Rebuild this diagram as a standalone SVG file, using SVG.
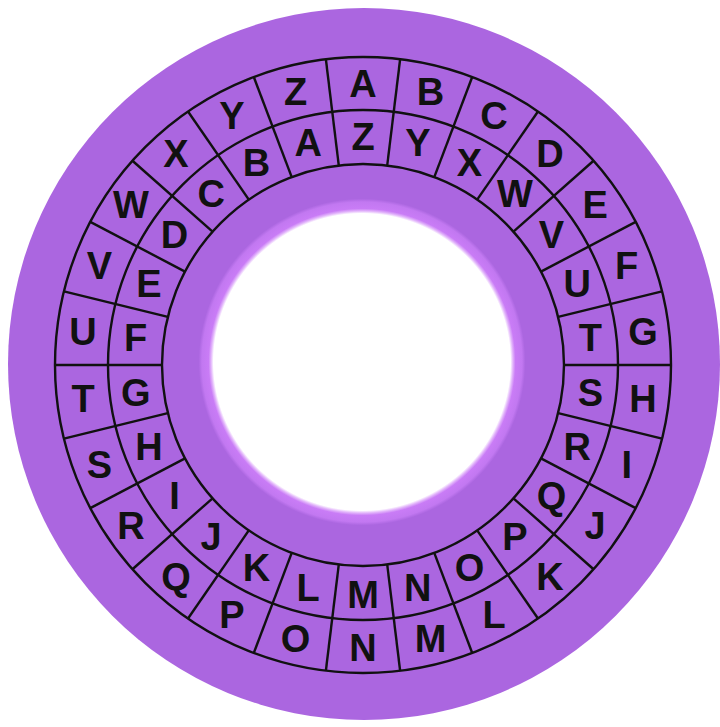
<svg xmlns="http://www.w3.org/2000/svg" xmlns:xlink="http://www.w3.org/1999/xlink" width="720" height="727" viewBox="0 0 720 727">
<defs>
<radialGradient id="hole" cx="362" cy="362" r="165" gradientUnits="userSpaceOnUse">
<stop offset="0" stop-color="#ffffff"/>
<stop offset="0.9" stop-color="#ffffff"/>
<stop offset="0.915" stop-color="#e2b4fb"/>
<stop offset="0.93" stop-color="#c97cf6"/>
<stop offset="0.97" stop-color="#c278f1"/>
<stop offset="0.99" stop-color="#ab66e0"/>
<stop offset="1" stop-color="#ab66e0"/>
</radialGradient>
<line id="sp" x1="0" y1="-201" x2="0" y2="-308"/>
</defs>
<style>
.ln{stroke:#111;stroke-width:2.4;fill:none}
.lt{font-family:"Liberation Sans",Arial,sans-serif;font-weight:bold;font-size:38px;fill:#111;text-anchor:middle}
</style>
<rect width="720" height="727" fill="#ffffff"/>
<circle id="disk" cx="364" cy="364" r="356" fill="#ab66e0"/>
<circle id="hole-ring" cx="362" cy="362" r="165" fill="url(#hole)"/>
<g id="connectors" class="ln" transform="translate(363,365)">
<circle r="308"/>
<circle r="255"/>
<circle r="201"/>
<use xlink:href="#sp" transform="rotate(6.923)"/>
<use xlink:href="#sp" transform="rotate(20.769)"/>
<use xlink:href="#sp" transform="rotate(34.615)"/>
<use xlink:href="#sp" transform="rotate(48.462)"/>
<use xlink:href="#sp" transform="rotate(62.308)"/>
<use xlink:href="#sp" transform="rotate(76.154)"/>
<use xlink:href="#sp" transform="rotate(90)"/>
<use xlink:href="#sp" transform="rotate(103.846)"/>
<use xlink:href="#sp" transform="rotate(117.692)"/>
<use xlink:href="#sp" transform="rotate(131.538)"/>
<use xlink:href="#sp" transform="rotate(145.385)"/>
<use xlink:href="#sp" transform="rotate(159.231)"/>
<use xlink:href="#sp" transform="rotate(173.077)"/>
<use xlink:href="#sp" transform="rotate(186.923)"/>
<use xlink:href="#sp" transform="rotate(200.769)"/>
<use xlink:href="#sp" transform="rotate(214.615)"/>
<use xlink:href="#sp" transform="rotate(228.462)"/>
<use xlink:href="#sp" transform="rotate(242.308)"/>
<use xlink:href="#sp" transform="rotate(256.154)"/>
<use xlink:href="#sp" transform="rotate(270)"/>
<use xlink:href="#sp" transform="rotate(283.846)"/>
<use xlink:href="#sp" transform="rotate(297.692)"/>
<use xlink:href="#sp" transform="rotate(311.538)"/>
<use xlink:href="#sp" transform="rotate(325.385)"/>
<use xlink:href="#sp" transform="rotate(339.231)"/>
<use xlink:href="#sp" transform="rotate(353.077)"/>
</g>
<g id="outer-ring" class="lt" transform="translate(363,365)">
<text transform="rotate(0) translate(0,-282) rotate(0)" dy="13.5">A</text>
<text transform="rotate(13.846) translate(0,-282) rotate(-13.846)" dy="13.5">B</text>
<text transform="rotate(27.692) translate(0,-282) rotate(-27.692)" dy="13.5">C</text>
<text transform="rotate(41.538) translate(0,-282) rotate(-41.538)" dy="13.5">D</text>
<text transform="rotate(55.385) translate(0,-282) rotate(-55.385)" dy="13.5">E</text>
<text transform="rotate(69.231) translate(0,-282) rotate(-69.231)" dy="13.5">F</text>
<text transform="rotate(83.077) translate(0,-282) rotate(-83.077)" dy="13.5">G</text>
<text transform="rotate(96.923) translate(0,-282) rotate(-96.923)" dy="13.5">H</text>
<text transform="rotate(110.769) translate(0,-282) rotate(-110.769)" dy="13.5">I</text>
<text transform="rotate(124.615) translate(0,-282) rotate(-124.615)" dy="13.5">J</text>
<text transform="rotate(138.462) translate(0,-282) rotate(-138.462)" dy="13.5">K</text>
<text transform="rotate(152.308) translate(0,-282) rotate(-152.308)" dy="13.5">L</text>
<text transform="rotate(166.154) translate(0,-282) rotate(-166.154)" dy="13.5">M</text>
<text transform="rotate(180) translate(0,-282) rotate(-180)" dy="13.5">N</text>
<text transform="rotate(193.846) translate(0,-282) rotate(-193.846)" dy="13.5">O</text>
<text transform="rotate(207.692) translate(0,-282) rotate(-207.692)" dy="13.5">P</text>
<text transform="rotate(221.538) translate(0,-282) rotate(-221.538)" dy="13.5">Q</text>
<text transform="rotate(235.385) translate(0,-282) rotate(-235.385)" dy="13.5">R</text>
<text transform="rotate(249.231) translate(0,-282) rotate(-249.231)" dy="13.5">S</text>
<text transform="rotate(263.077) translate(0,-282) rotate(-263.077)" dy="13.5">T</text>
<text transform="rotate(276.923) translate(0,-282) rotate(-276.923)" dy="13.5">U</text>
<text transform="rotate(290.769) translate(0,-282) rotate(-290.769)" dy="13.5">V</text>
<text transform="rotate(304.615) translate(0,-282) rotate(-304.615)" dy="13.5">W</text>
<text transform="rotate(318.462) translate(0,-282) rotate(-318.462)" dy="13.5">X</text>
<text transform="rotate(332.308) translate(0,-282) rotate(-332.308)" dy="13.5">Y</text>
<text transform="rotate(346.154) translate(0,-282) rotate(-346.154)" dy="13.5">Z</text>
</g>
<g id="inner-ring" class="lt" transform="translate(363,365)">
<text transform="rotate(0) translate(0,-229) rotate(0)" dy="13.5">Z</text>
<text transform="rotate(13.846) translate(0,-229) rotate(-13.846)" dy="13.5">Y</text>
<text transform="rotate(27.692) translate(0,-229) rotate(-27.692)" dy="13.5">X</text>
<text transform="rotate(41.538) translate(0,-229) rotate(-41.538)" dy="13.5">W</text>
<text transform="rotate(55.385) translate(0,-229) rotate(-55.385)" dy="13.5">V</text>
<text transform="rotate(69.231) translate(0,-229) rotate(-69.231)" dy="13.5">U</text>
<text transform="rotate(83.077) translate(0,-229) rotate(-83.077)" dy="13.5">T</text>
<text transform="rotate(96.923) translate(0,-229) rotate(-96.923)" dy="13.5">S</text>
<text transform="rotate(110.769) translate(0,-229) rotate(-110.769)" dy="13.5">R</text>
<text transform="rotate(124.615) translate(0,-229) rotate(-124.615)" dy="13.5">Q</text>
<text transform="rotate(138.462) translate(0,-229) rotate(-138.462)" dy="13.5">P</text>
<text transform="rotate(152.308) translate(0,-229) rotate(-152.308)" dy="13.5">O</text>
<text transform="rotate(166.154) translate(0,-229) rotate(-166.154)" dy="13.5">N</text>
<text transform="rotate(180) translate(0,-229) rotate(-180)" dy="13.5">M</text>
<text transform="rotate(193.846) translate(0,-229) rotate(-193.846)" dy="13.5">L</text>
<text transform="rotate(207.692) translate(0,-229) rotate(-207.692)" dy="13.5">K</text>
<text transform="rotate(221.538) translate(0,-229) rotate(-221.538)" dy="13.5">J</text>
<text transform="rotate(235.385) translate(0,-229) rotate(-235.385)" dy="13.5">I</text>
<text transform="rotate(249.231) translate(0,-229) rotate(-249.231)" dy="13.5">H</text>
<text transform="rotate(263.077) translate(0,-229) rotate(-263.077)" dy="13.5">G</text>
<text transform="rotate(276.923) translate(0,-229) rotate(-276.923)" dy="13.5">F</text>
<text transform="rotate(290.769) translate(0,-229) rotate(-290.769)" dy="13.5">E</text>
<text transform="rotate(304.615) translate(0,-229) rotate(-304.615)" dy="13.5">D</text>
<text transform="rotate(318.462) translate(0,-229) rotate(-318.462)" dy="13.5">C</text>
<text transform="rotate(332.308) translate(0,-229) rotate(-332.308)" dy="13.5">B</text>
<text transform="rotate(346.154) translate(0,-229) rotate(-346.154)" dy="13.5">A</text>
</g>
</svg>
